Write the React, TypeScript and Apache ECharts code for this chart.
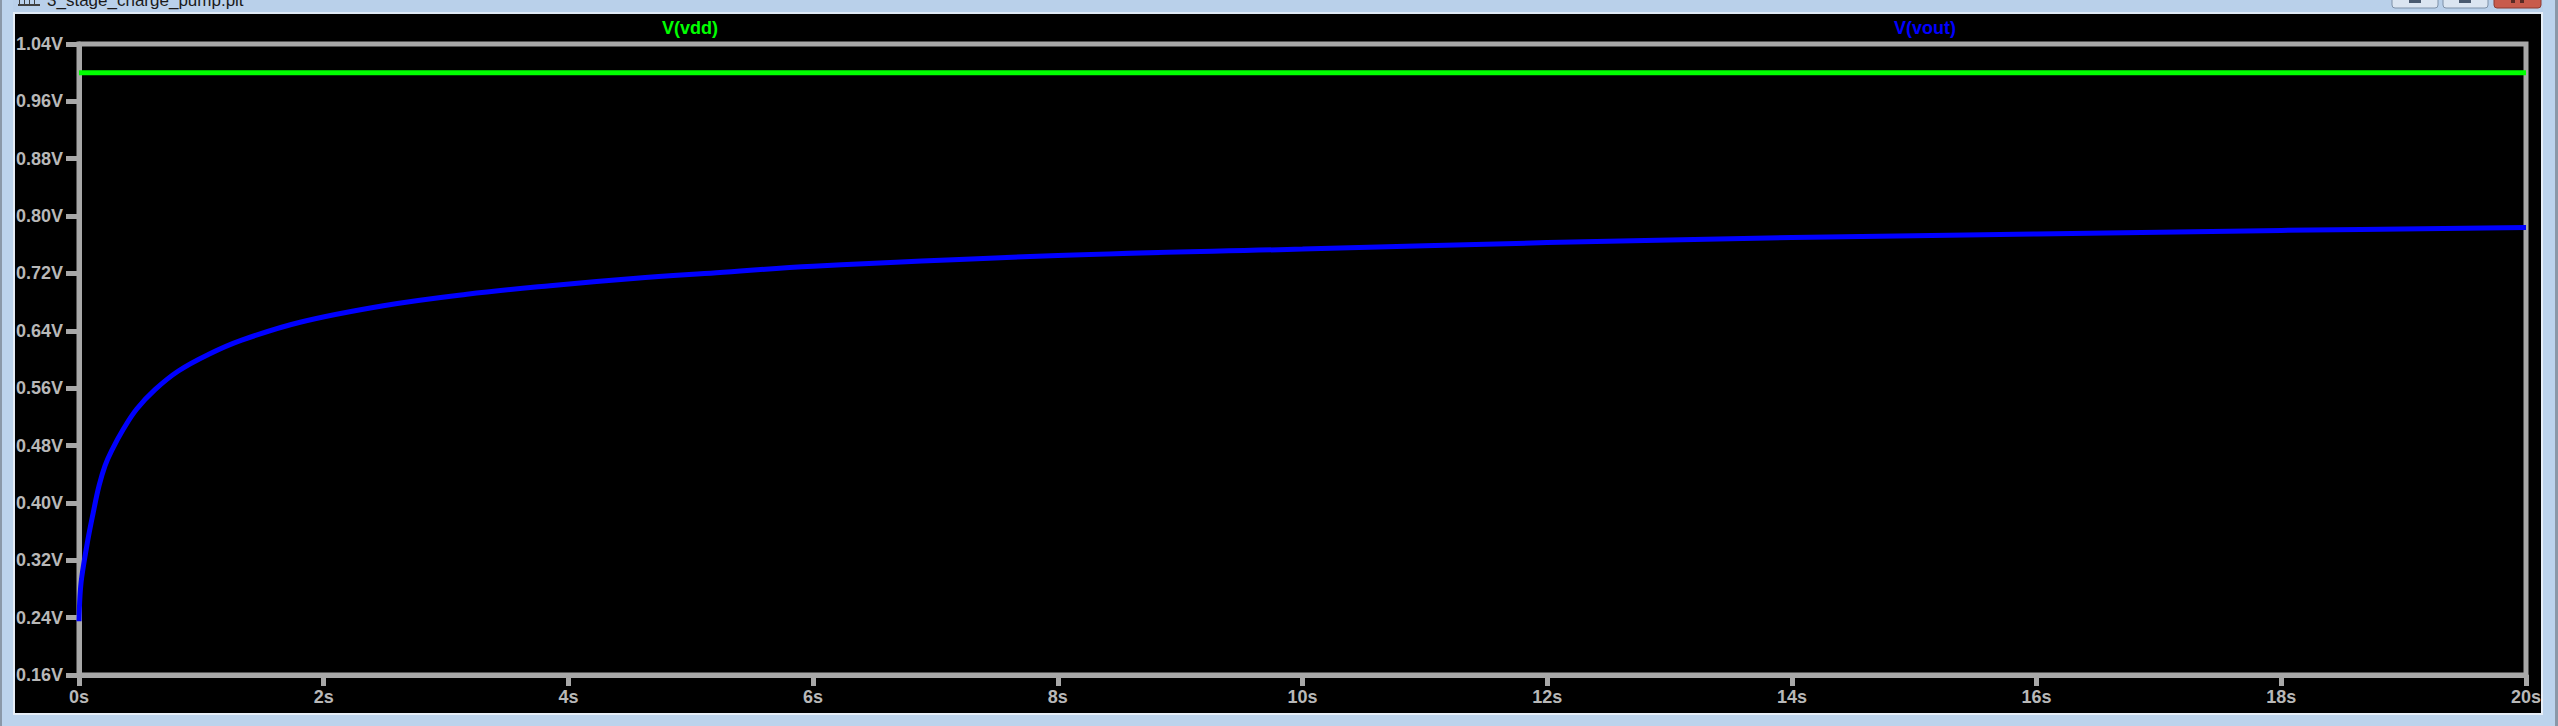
import React, { useEffect, useRef } from "react";
import * as echarts from "echarts";

const timeSec = [0, 0.008, 0.022, 0.071, 0.117, 0.164, 0.213, 0.267, 0.363, 0.472, 0.621, 0.812, 1.057, 1.33, 1.807, 2.488, 3.17, 3.85, 4.53, 5.21, 6, 8, 10, 12, 14, 16, 18, 20];
const vout = [0.235, 0.27, 0.296, 0.347, 0.387, 0.424, 0.452, 0.473, 0.503, 0.531, 0.558, 0.584, 0.607, 0.627, 0.652, 0.675, 0.691, 0.703, 0.713, 0.721, 0.73, 0.745, 0.754, 0.763, 0.77, 0.775, 0.78, 0.784];
const vddTime = [0, 20];
const vdd = [1.0, 1.0];
const traceNames = ["V(vdd)", "V(vout)"];
const windowTitle = "3_stage_charge_pump.plt";

const FONT = "'Liberation Sans', Arial, sans-serif";
const GREY = "#a8a8a8";
const LABEL = "#b8b8b8";

export default function App() {
  const ref = useRef<HTMLDivElement>(null);
  useEffect(() => {
    if (!ref.current) return;
    const chart = echarts.init(ref.current, undefined, { renderer: "svg" });
    const chromeBlue = "#bcd3ec";
    chart.setOption({
      animation: false,
      backgroundColor: "#000",
      grid: {
        left: 79,
        top: 44,
        width: 2447,
        height: 631,
        show: true,
        borderColor: GREY,
        borderWidth: 5,
        backgroundColor: "transparent",
        containLabel: false,
      },
      xAxis: {
        type: "value",
        min: 0,
        max: 20,
        interval: 2,
        axisLine: { show: true, lineStyle: { color: GREY, width: 5 } },
        axisTick: { show: true, length: 11, lineStyle: { color: GREY, width: 5 } },
        splitLine: { show: false },
        axisLabel: {
          color: LABEL,
          fontFamily: FONT,
          fontWeight: "bold",
          fontSize: 18,
          margin: 13,
          showMinLabel: true,
          showMaxLabel: true,
          formatter: (v: number) => `${Math.round(v)}s`,
        },
      },
      yAxis: {
        type: "value",
        min: 0.16,
        max: 1.04,
        interval: 0.08,
        axisLine: { show: true, lineStyle: { color: GREY, width: 5 } },
        axisTick: { show: true, length: 13, lineStyle: { color: GREY, width: 5 } },
        splitLine: { show: false },
        axisLabel: {
          color: LABEL,
          fontFamily: FONT,
          fontWeight: "bold",
          fontSize: 18,
          margin: 16,
          showMinLabel: true,
          showMaxLabel: true,
          formatter: (v: number) => `${v.toFixed(2)}V`,
        },
      },
      series: [
        {
          name: traceNames[0],
          type: "line",
          data: vddTime.map((t, i) => [t, vdd[i]]),
          symbol: "none",
          lineStyle: { color: "#00ff00", width: 5 },
          z: 3,
        },
        {
          name: traceNames[1],
          type: "line",
          data: timeSec.map((t, i) => [t, vout[i]]),
          symbol: "none",
          smooth: 0.4,
          lineStyle: { color: "#0000ff", width: 5 },
          z: 4,
        },
      ],
      graphic: [
        {
          type: "text",
          x: 690,
          y: 28,
          z: 100,
          style: {
            text: traceNames[0],
            fill: "#00ff00",
            font: `bold 18px ${FONT}`,
            textAlign: "center",
            textVerticalAlign: "middle",
          },
        },
        {
          type: "text",
          x: 1925,
          y: 28,
          z: 100,
          style: {
            text: traceNames[1],
            fill: "#0000ff",
            font: `bold 18px ${FONT}`,
            textAlign: "center",
            textVerticalAlign: "middle",
          },
        },
        { type: "rect", z: 90, shape: { x: 0, y: 0, width: 2558, height: 13 }, style: { fill: "#b9d0ea" } },
        { type: "rect", z: 90, shape: { x: 13, y: 12, width: 2531, height: 2 }, style: { fill: "#dfe9f5" } },
        { type: "rect", z: 90, shape: { x: 0, y: 0, width: 13, height: 726 }, style: { fill: chromeBlue } },
        { type: "rect", z: 91, shape: { x: 0, y: 0, width: 2, height: 726 }, style: { fill: "#8a98a8" } },
        { type: "rect", z: 91, shape: { x: 13, y: 12, width: 2, height: 703 }, style: { fill: "#e6eef7" } },
        { type: "rect", z: 90, shape: { x: 2543, y: 0, width: 15, height: 726 }, style: { fill: chromeBlue } },
        { type: "rect", z: 91, shape: { x: 2541, y: 12, width: 2, height: 703 }, style: { fill: "#e6eef7" } },
        { type: "rect", z: 91, shape: { x: 2555, y: 0, width: 3, height: 726 }, style: { fill: "#8a98a8" } },
        { type: "rect", z: 90, shape: { x: 0, y: 715, width: 2558, height: 11 }, style: { fill: chromeBlue } },
        { type: "rect", z: 91, shape: { x: 13, y: 713, width: 2530, height: 2 }, style: { fill: "#e6eef7" } },
        { type: "rect", z: 95, shape: { x: 18, y: 4, width: 22, height: 2 }, style: { fill: "#404040" } },
        { type: "rect", z: 95, shape: { x: 19, y: 0, width: 1, height: 6 }, style: { fill: "#404040" } },
        { type: "rect", z: 95, shape: { x: 24, y: 0, width: 1, height: 6 }, style: { fill: "#404040" } },
        { type: "rect", z: 95, shape: { x: 29, y: 0, width: 1, height: 6 }, style: { fill: "#404040" } },
        { type: "rect", z: 95, shape: { x: 34, y: 0, width: 1, height: 6 }, style: { fill: "#404040" } },
        {
          type: "text",
          x: 47,
          y: 0,
          z: 95,
          style: {
            text: windowTitle,
            fill: "#1a1a1a",
            font: `17px ${FONT}`,
            textAlign: "left",
            textVerticalAlign: "middle",
          },
        },
        {
          type: "rect", z: 95,
          shape: { x: 2392, y: -12, width: 46, height: 20, r: 3 },
          style: { fill: "#dbe5f1", stroke: "#7f91a8", lineWidth: 1 },
        },
        {
          type: "rect", z: 95,
          shape: { x: 2443, y: -12, width: 45, height: 20, r: 3 },
          style: { fill: "#dbe5f1", stroke: "#7f91a8", lineWidth: 1 },
        },
        {
          type: "rect", z: 95,
          shape: { x: 2494, y: -12, width: 47, height: 20, r: 3 },
          style: { fill: "#c85b4c", stroke: "#8e3b30", lineWidth: 1 },
        },
        { type: "rect", z: 96, shape: { x: 2409, y: 0, width: 12, height: 3 }, style: { fill: "#4a5a70" } },
        { type: "rect", z: 96, shape: { x: 2459, y: 0, width: 12, height: 3 }, style: { fill: "#4a5a70" } },
        { type: "rect", z: 96, shape: { x: 2511, y: 0, width: 4, height: 3 }, style: { fill: "#5a2a24" } },
        { type: "rect", z: 96, shape: { x: 2520, y: 0, width: 4, height: 3 }, style: { fill: "#5a2a24" } },
      ],
    });
    return () => chart.dispose();
  }, []);
  return (
    <div
      ref={ref}
      style={{ position: "fixed", left: 0, top: 0, width: 2558, height: 726 }}
    />
  );
}
